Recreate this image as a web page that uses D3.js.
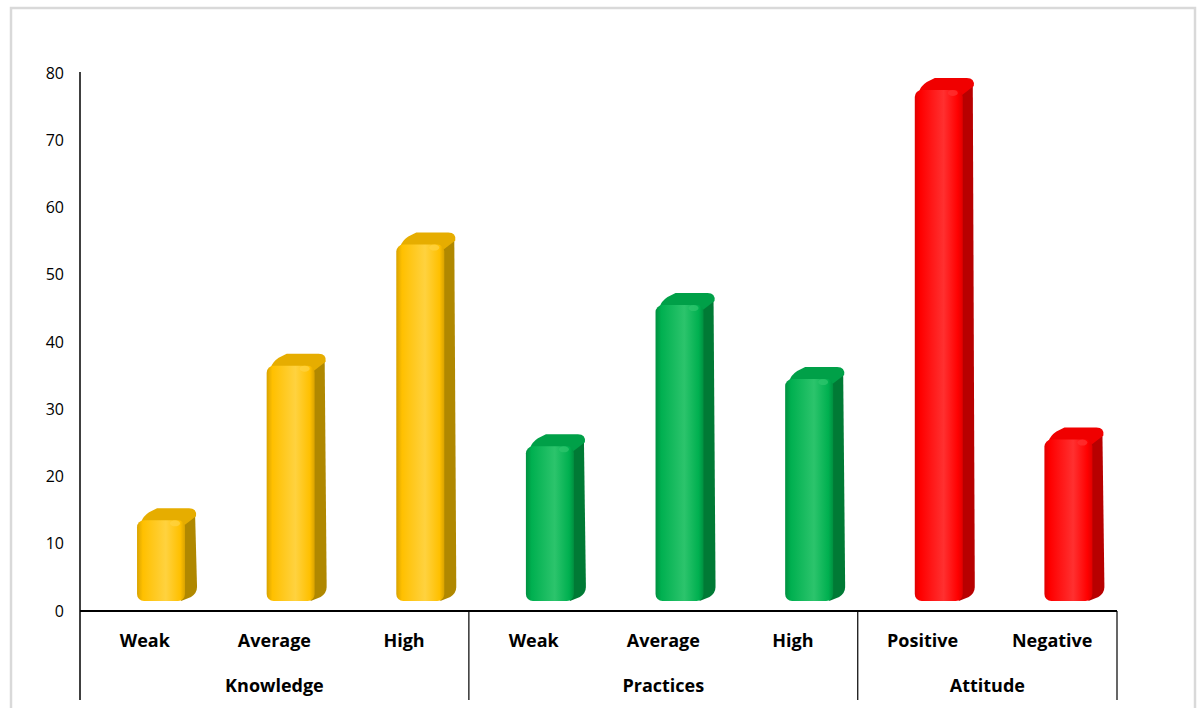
<!DOCTYPE html>
<html>
<head>
<meta charset="utf-8">
<script src="https://cdn.jsdelivr.net/npm/d3@7"></script>
<style>
  body { margin: 0; background: #fff; }
  text { font-family: "Open Sans", "Liberation Sans", sans-serif; fill: #000; }
</style>
</head>
<body>
<script>
// data
var groups = ["Knowledge", "Practices", "Attitude"];
var categories = ["Weak", "Average", "High", "Weak", "Average", "High", "Positive", "Negative"];
var groupOf = [0, 0, 0, 1, 1, 1, 2, 2];
var values = [12, 35, 53, 23, 44, 33, 76, 24];
var yTicks = [0, 10, 20, 30, 40, 50, 60, 70, 80];

var palette = [
  {front: "#FFC000", light: "#FFD23F", dark: "#D9A300", side: "#B08800", top: "#E6AD00"},
  {front: "#00B050", light: "#2CC46C", dark: "#009040", side: "#007A35", top: "#00A048"},
  {front: "#FF0000", light: "#FF3030", dark: "#E00000", side: "#B80000", top: "#F00000"}
];

var W = 1199, H = 708;
var x0 = 80, x1 = 1117, yBase = 611, yTop = 73;
var floorOff = 10, depth = 12;

var svg = d3.select("body").append("svg")
    .attr("width", W)
    .attr("height", H);

// frame
svg.append("rect")
    .attr("x", 11).attr("y", 8)
    .attr("width", 1184).attr("height", 720)
    .attr("fill", "#fff")
    .attr("stroke", "#d9d9d9")
    .attr("stroke-width", 2.5);

var x = d3.scaleBand()
    .domain(d3.range(categories.length))
    .range([x0, x1]);

var y = d3.scaleLinear()
    .domain([0, 80])
    .range([yBase, yTop]);

// gradients for each colour
var defs = svg.append("defs");
palette.forEach(function(p, i) {
  var g = defs.append("linearGradient")
      .attr("id", "front" + i)
      .attr("x1", "0").attr("x2", "1").attr("y1", "0").attr("y2", "0");
  g.append("stop").attr("offset", "0").attr("stop-color", p.dark);
  g.append("stop").attr("offset", "0.12").attr("stop-color", p.front);
  g.append("stop").attr("offset", "0.6").attr("stop-color", p.light);
  g.append("stop").attr("offset", "0.9").attr("stop-color", p.front);
  g.append("stop").attr("offset", "1").attr("stop-color", p.dark);
});

// y axis tick labels
svg.append("g").selectAll("text")
    .data(yTicks)
    .enter().append("text")
    .attr("x", 64)
    .attr("y", function(d) { return y(d); })
    .attr("dy", "0.35em")
    .attr("text-anchor", "end")
    .attr("font-size", 16)
    .text(function(d) { return d; });

// bars
var bw = x.bandwidth();
var barW = 48;
var bars = svg.append("g").selectAll("g")
    .data(values)
    .enter().append("g");

bars.each(function(v, i) {
  var g = d3.select(this);
  var p = palette[groupOf[i]];
  var left = x(i) + bw * 0.44;
  var bottom = y(0) - floorOff;
  var top = y(v) - floorOff;
  var r = 7;

  // side face
  g.append("path")
      .attr("d", "M" + (left + barW - 2) + "," + (top + 4) +
                 "L" + (left + barW + depth - 2) + "," + (top - depth + 4) +
                 "L" + (left + barW + depth) + "," + (bottom - depth - 2) +
                 "Q" + (left + barW + depth) + "," + (bottom - depth + 4) + " " +
                       (left + barW + depth - 6) + "," + (bottom - depth + 8) +
                 "L" + (left + barW - 4) + "," + bottom + "Z")
      .attr("fill", p.side);

  // top face
  g.append("path")
      .attr("d", "M" + (left + 4) + "," + (top + 2) +
                 "Q" + (left + 6) + "," + (top - 4) + " " + (left + 12) + "," + (top - 8) +
                 "L" + (left + depth + 8) + "," + (top - depth) +
                 "L" + (left + barW + depth - 8) + "," + (top - depth) +
                 "Q" + (left + barW + depth) + "," + (top - depth) + " " +
                       (left + barW + depth - 1) + "," + (top - depth + 8) +
                 "L" + (left + barW - 2) + "," + (top + 6) + "Z")
      .attr("fill", p.top);

  // front face
  g.append("rect")
      .attr("x", left)
      .attr("y", top)
      .attr("width", barW)
      .attr("height", bottom - top)
      .attr("rx", r)
      .attr("fill", "url(#front" + groupOf[i] + ")");

  // small highlight at top edge
  g.append("ellipse")
      .attr("cx", left + barW - 10)
      .attr("cy", top + 3)
      .attr("rx", 5)
      .attr("ry", 3)
      .attr("fill", p.light)
      .attr("opacity", 0.8);
});

// axes lines
var axes = svg.append("g")
    .attr("stroke", "#000")
    .attr("fill", "none");

axes.append("line")
    .attr("x1", x0).attr("x2", x0)
    .attr("y1", yTop - 1).attr("y2", 700)
    .attr("stroke-width", 1.5);

axes.append("line")
    .attr("x1", x0).attr("x2", x1)
    .attr("y1", yBase).attr("y2", yBase)
    .attr("stroke-width", 2);

// group separators
var groupEnds = [3, 6, 8];
groupEnds.forEach(function(k) {
  var xx = k < categories.length ? x(k) : x1;
  axes.append("line")
      .attr("x1", xx).attr("x2", xx)
      .attr("y1", yBase).attr("y2", 700)
      .attr("stroke-width", 1.2);
});

// category labels
svg.append("g").selectAll("text")
    .data(categories)
    .enter().append("text")
    .attr("x", function(d, i) { return x(i) + bw / 2; })
    .attr("y", 641)
    .attr("dy", "0.35em")
    .attr("text-anchor", "middle")
    .attr("font-size", 18)
    .attr("font-weight", "bold")
    .text(function(d) { return d; });

// group labels
var groupStarts = [0, 3, 6];
svg.append("g").selectAll("text")
    .data(groups)
    .enter().append("text")
    .attr("x", function(d, i) {
      var a = x(groupStarts[i]);
      var b = groupEnds[i] < categories.length ? x(groupEnds[i]) : x1;
      return (a + b) / 2;
    })
    .attr("y", 686)
    .attr("dy", "0.35em")
    .attr("text-anchor", "middle")
    .attr("font-size", 18)
    .attr("font-weight", "bold")
    .text(function(d) { return d; });
</script>
</body>
</html>
